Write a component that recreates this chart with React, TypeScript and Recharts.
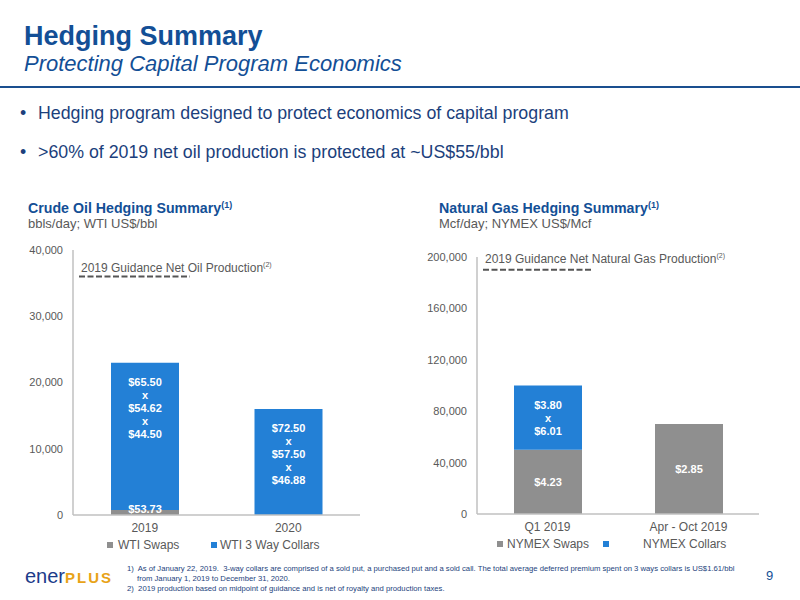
import React from "react";
import {
  BarChart,
  Bar,
  XAxis,
  YAxis,
  Legend,
  LabelList,
  ReferenceLine,
} from "recharts";

// crude oil (bbls/day)
const oilCategories = ["2019", "2020"];
const oilSwapVolumes = [750, 0];
const oilCollarVolumes = [22250, 16000];
const oilSwapPrices = ["$53.73", ""];
const oilCollarPrices = ["$65.50\nx\n$54.62\nx\n$44.50", "$72.50\nx\n$57.50\nx\n$46.88"];
const oilTicks = [0, 10000, 20000, 30000, 40000];
const oilGuidance = 36000;

// natural gas (Mcf/day)
const gasCategories = ["Q1 2019", "Apr - Oct 2019"];
const gasSwapVolumes = [50000, 70000];
const gasCollarVolumes = [50000, 0];
const gasSwapPrices = ["$4.23", "$2.85"];
const gasCollarPrices = ["$3.80\nx\n$6.01", ""];
const gasTicks = [0, 40000, 80000, 120000, 160000, 200000];
const gasGuidance = 190000;

const FONT = '"Liberation Sans", Arial, Helvetica, sans-serif';
const BLUE_TEXT = "#134f96";
const DARK_TEXT = "#1c3f7c";
const GREY_TEXT = "#595959";
const SWAP_COLOR = "#8f8f8f";
const COLLAR_COLOR = "#2380d6";
const AXIS_COLOR = "#c0c0c0";
const SERIES_ORDER = ["swaps", "collars"];

const buildRows = (cats: string[], swaps: number[], collars: number[], swapLbl: string[], collarLbl: string[]) =>
  cats.map((c, i) => ({
    category: c,
    swaps: swaps[i],
    collars: collars[i],
    swapLabel: swapLbl[i],
    collarLabel: collarLbl[i],
  }));

const oilData = buildRows(oilCategories, oilSwapVolumes, oilCollarVolumes, oilSwapPrices, oilCollarPrices);
const gasData = buildRows(gasCategories, gasSwapVolumes, gasCollarVolumes, gasSwapPrices, gasCollarPrices);

const fmt = (v: number) => v.toLocaleString("en-US");

function PriceLabel(props: any) {
  const { x, y, width, height, value, anchor } = props;
  if (!value) return null;
  const lines = String(value).split("\n");
  const cx = Number(x) + Number(width) / 2;
  const step = 13;
  // thin segments: keep the text sitting just above the axis
  const mid = Math.min(Number(y) + Number(height) / 2, Number(y) + Number(height) - 6);
  const first = anchor === "top" ? Number(y) + 19 : mid - ((lines.length - 1) * step) / 2;
  return (
    <g>
      {lines.map((l, i) => (
        <text
          key={i}
          x={cx}
          y={first + i * step}
          textAnchor="middle"
          dominantBaseline="central"
          fill="#fff"
          fontSize={11}
          fontWeight="bold"
          fontFamily={FONT}
        >
          {l}
        </text>
      ))}
    </g>
  );
}

function GuideMark(props: any) {
  const { x1, y1, label, dx, len, textGap } = props;
  return (
    <g>
      <line
        x1={x1 + dx}
        y1={y1}
        x2={x1 + dx + len}
        y2={y1}
        stroke="#555"
        strokeWidth={2}
        strokeDasharray="6 2.5"
      />
      <text x={x1 + dx + 2} y={y1 - textGap} dominantBaseline="central" fill={GREY_TEXT} fontSize={12} fontFamily={FONT}>
        {label}
        <tspan fontSize={7} dy={-4}>(2)</tspan>
      </text>
    </g>
  );
}

const makeLegend = (spots: { sq: number; tx: number }[]) => (props: any) => {
  const payload = [...(props.payload || [])].sort(
    (a: any, b: any) => SERIES_ORDER.indexOf(a.dataKey) - SERIES_ORDER.indexOf(b.dataKey)
  );
  return (
    <div style={{ position: "relative", height: 24, width: 400, fontFamily: FONT }}>
      {payload.map((p: any, i: number) => (
        <React.Fragment key={i}>
          <div
            style={{
              position: "absolute",
              left: spots[i].sq,
              top: 5,
              width: 6,
              height: 6,
              background: p.color,
            }}
          />
          <div
            style={{
              position: "absolute",
              left: spots[i].tx,
              top: 2,
              fontSize: 12,
              lineHeight: "12px",
              color: GREY_TEXT,
              whiteSpace: "nowrap",
            }}
          >
            {p.value}
          </div>
        </React.Fragment>
      ))}
    </div>
  );
};

function HedgeChart({
  data,
  ticks,
  guidance,
  guideLabel,
  guideLen,
  guideGap,
  yWidth,
  margin,
  height,
  swapName,
  collarName,
  collarAnchor,
  legendSpots,
}: any) {
  return (
    <BarChart width={400} height={height} data={data} margin={margin}>
      <XAxis
        dataKey="category"
        interval={0}
        height={22}
        tickLine={false}
        axisLine={{ stroke: AXIS_COLOR, strokeWidth: 1.5 }}
        tick={{ fill: GREY_TEXT, fontSize: 12, fontFamily: FONT }}
      />
      <YAxis
        width={yWidth}
        domain={[ticks[0], ticks[ticks.length - 1]]}
        ticks={ticks}
        tickFormatter={fmt}
        tickLine={false}
        tickMargin={4}
        axisLine={{ stroke: AXIS_COLOR, strokeWidth: 1.5 }}
        tick={{ fill: GREY_TEXT, fontSize: 11, fontFamily: FONT }}
      />
      <ReferenceLine
        y={guidance}
        shape={(p: any) => <GuideMark {...p} label={guideLabel} dx={6} len={guideLen} textGap={guideGap} />}
      />
      <Bar dataKey="swaps" stackId="v" fill={SWAP_COLOR} barSize={68} name={swapName} isAnimationActive={false}>
        <LabelList dataKey="swapLabel" content={(p: any) => <PriceLabel {...p} anchor="middle" />} />
      </Bar>
      <Bar dataKey="collars" stackId="v" fill={COLLAR_COLOR} barSize={68} name={collarName} isAnimationActive={false}>
        <LabelList dataKey="collarLabel" content={(p: any) => <PriceLabel {...p} anchor={collarAnchor} />} />
      </Bar>
      <Legend verticalAlign="bottom" wrapperStyle={{ left: 0, width: 400 }} content={makeLegend(legendSpots)} />
    </BarChart>
  );
}

const abs = (left: number, top: number, extra: React.CSSProperties = {}): React.CSSProperties => ({
  position: "absolute",
  left,
  top,
  whiteSpace: "nowrap",
  ...extra,
});

const supStyle: React.CSSProperties = { fontSize: 9, position: "relative", top: -5, lineHeight: 0 };

export default function App() {
  return (
    <div
      style={{
        position: "absolute",
        left: 0,
        top: 0,
        width: 800,
        height: 600,
        background: "#fff",
        overflow: "hidden",
        fontFamily: FONT,
      }}
    >
      <div style={abs(24, 22, { fontSize: 27, lineHeight: "28px", fontWeight: "bold", color: BLUE_TEXT })}>
        Hedging Summary
      </div>
      <div style={abs(24, 52, { fontSize: 22, lineHeight: "24px", fontStyle: "italic", color: BLUE_TEXT })}>
        Protecting Capital Program Economics
      </div>
      <div style={abs(0, 86, { width: 800, height: 2, background: "#1a4f8f" })} />

      <div style={abs(20, 104, { fontSize: 17.8, lineHeight: "18px", color: DARK_TEXT })}>•</div>
      <div style={abs(38, 104, { fontSize: 17.8, lineHeight: "18px", color: DARK_TEXT })}>
        Hedging program designed to protect economics of capital program
      </div>
      <div style={abs(20, 143, { fontSize: 17.8, lineHeight: "18px", color: DARK_TEXT })}>•</div>
      <div style={abs(38, 143, { fontSize: 17.8, lineHeight: "18px", color: DARK_TEXT })}>
        &gt;60% of 2019 net oil production is protected at ~US$55/bbl
      </div>

      <div style={abs(28, 201, { fontSize: 14.2, lineHeight: "14px", fontWeight: "bold", color: BLUE_TEXT })}>
        Crude Oil Hedging Summary<span style={supStyle}>(1)</span>
      </div>
      <div style={abs(28, 217, { fontSize: 13, lineHeight: "13px", color: GREY_TEXT })}>bbls/day; WTI US$/bbl</div>

      <div style={abs(439, 201, { fontSize: 14.2, lineHeight: "14px", fontWeight: "bold", color: BLUE_TEXT })}>
        Natural Gas Hedging Summary<span style={supStyle}>(1)</span>
      </div>
      <div style={abs(439, 217, { fontSize: 13, lineHeight: "13px", color: GREY_TEXT })}>Mcf/day; NYMEX US$/Mcf</div>

      <div style={abs(0, 240)}>
        <HedgeChart
          data={oilData}
          ticks={oilTicks}
          guidance={oilGuidance}
          guideLabel="2019 Guidance Net Oil Production"
          guideLen={111}
          guideGap={9}
          yWidth={73}
          margin={{ top: 10, right: 40, left: 0, bottom: 0 }}
          height={321}
          swapName="WTI Swaps"
          collarName="WTI 3 Way Collars"
          collarAnchor="top"
          legendSpots={[
            { sq: 107, tx: 118 },
            { sq: 211, tx: 220 },
          ]}
        />
      </div>

      <div style={abs(400, 240)}>
        <HedgeChart
          data={gasData}
          ticks={gasTicks}
          guidance={gasGuidance}
          guideLabel="2019 Guidance Net Natural Gas Production"
          guideLen={109}
          guideGap={11}
          yWidth={77}
          margin={{ top: 17, right: 41, left: 0, bottom: 0 }}
          height={320}
          swapName="NYMEX Swaps"
          collarName="NYMEX Collars"
          collarAnchor="middle"
          legendSpots={[
            { sq: 97, tx: 107 },
            { sq: 203, tx: 243 },
          ]}
        />
      </div>

      <div style={abs(25, 566, { fontSize: 20, lineHeight: "20px", color: "#1c3b8a" })}>
        ener
        <span style={{ fontSize: 15, fontWeight: "bold", color: "#e8a317", letterSpacing: 2 }}>PLUS</span>
      </div>
      <div style={abs(127, 565, { fontSize: 7.7, lineHeight: "8px", color: DARK_TEXT })}>
        1)&nbsp; As of January 22, 2019.&nbsp; 3-way collars are comprised of a sold put, a purchased put and a sold
        call. The total average deferred premium spent on 3 ways collars is US$1.61/bbl
      </div>
      <div style={abs(137, 575, { fontSize: 7.7, lineHeight: "8px", color: DARK_TEXT })}>
        from January 1, 2019 to December 31, 2020.
      </div>
      <div style={abs(127, 585, { fontSize: 7.7, lineHeight: "8px", color: DARK_TEXT })}>
        2)&nbsp; 2019 production based on midpoint of guidance and is net of royalty and production taxes.
      </div>
      <div style={abs(766, 569, { fontSize: 13, lineHeight: "14px", color: BLUE_TEXT })}>9</div>
    </div>
  );
}
